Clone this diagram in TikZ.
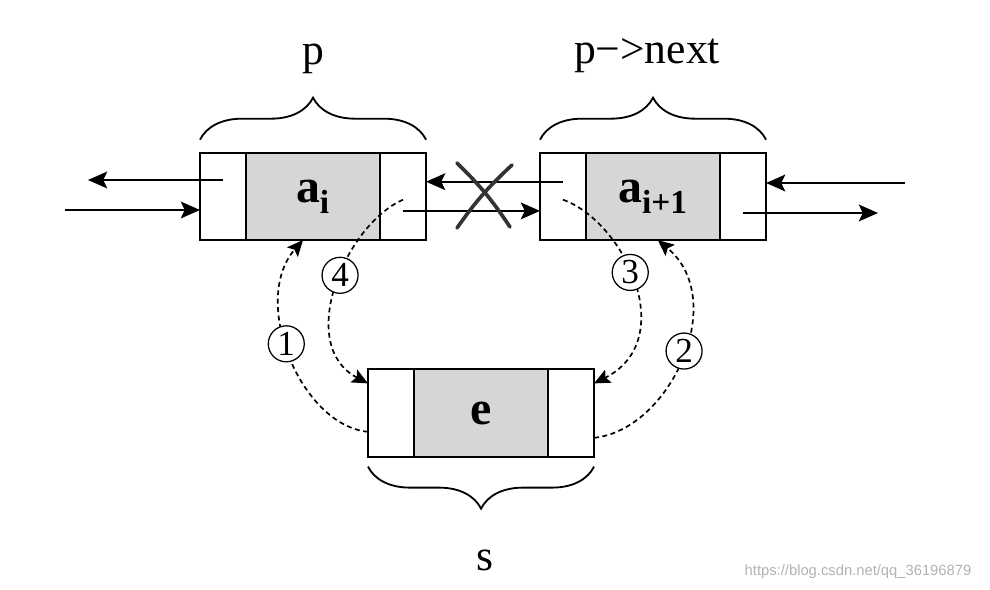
\documentclass[tikz,border=0pt]{standalone}
\usepackage{fontspec}
\setmainfont{Liberation Serif}
\newfontfamily\wmfont{Liberation Sans}
\usetikzlibrary{positioning,decorations.pathreplacing,arrows.meta}

\begin{document}
\begin{tikzpicture}[
        x=0.025cm, y=-0.025cm,
        node distance=0pt,
        every node/.style={font=\fontsize{31}{34}\selectfont},
        field/.style={draw, line width=1.3pt, minimum width=1.15cm, minimum height=2.18cm, inner sep=0pt, outer sep=0pt},
        datafield/.style={field, fill=black!16, minimum width=3.35cm, font=\fontsize{34}{36}\selectfont\bfseries},
        link/.style={line width=1.4pt, -{Stealth[length=0.48cm, width=0.42cm, inset=0.1cm]}},
        relink/.style={dashed, dash pattern=on 3.5pt off 2.5pt, line width=1.2pt, -{Stealth[length=0.4cm, width=0.36cm, inset=0.08cm]}},
        numlabel/.style={solid, circle, draw, line width=0.9pt, fill=white, inner sep=0pt, minimum size=0.9cm, font=\fontsize{25}{27}\selectfont},
        curly/.style={decorate, decoration={brace, amplitude=1.05cm, aspect=0.5}, line width=1.3pt},
        crossmark/.style={line width=2.6pt, black!80, line cap=round}
    ]
        \useasboundingbox (0,0) rectangle (990,590);

        % Vẽ các nút
        \node[field] (pl) at (223,196.5) {};
        \node[datafield, right=of pl] (pd) {a\textsubscript{i}};
        \node[field, right=of pd] (pr) {};

        \node[field] (ql) at (563,196.5) {};
        \node[datafield, right=of ql] (qd) {a\textsubscript{i+1}};
        \node[field, right=of qd] (qr) {};

        \node[field] (sl) at (391,413) {};
        \node[datafield, right=of sl] (sd) {e};
        \node[field, right=of sd] (sr) {};

        % Vẽ dấu ngoặc và nhãn
        \draw[curly] ([yshift=0.33cm]pl.north west) -- ([yshift=0.33cm]pr.north east);
        \draw[curly] ([yshift=0.33cm]ql.north west) -- ([yshift=0.33cm]qr.north east);
        \draw[curly] ([yshift=-0.25cm]sr.south east) -- ([yshift=-0.25cm]sl.south west);
        \node (plabel) at (313,59) {p};
        \node (qlabel) at (647,56) {p−>next};
        \node (slabel) at (485,560) {s};

        % Các mũi tên liên kết
        \coordinate (lout) at (88,180);
        \coordinate (lin) at (65,210);
        \coordinate (rin) at (905,183);
        \coordinate (rout) at (878,213);
        \draw[link] (pl.center |- lout) -- (lout);
        \draw[link] (lin) -- (lin -| pl.west);
        \draw[link] ([yshift=0.37cm]ql.center) -- ([yshift=0.37cm]pr.east);
        \draw[link] ([yshift=-0.36cm]pr.center) -- ([yshift=-0.36cm]ql.west);
        \draw[link] (rin) -- (rin -| qr.east);
        \draw[link] (qr.center |- rout) -- (rout);

        % Dấu gạch chéo
        \draw[crossmark] (457,163) to[bend left=6] (510,227);
        \draw[crossmark] (512,165) to[bend right=6] (457,228);

        % Các liên kết mới
        \draw[relink] ([yshift=-0.47cm]sl.west) .. controls (300,425) and (250,300) .. ([xshift=-0.25cm]pd.south)
            node[numlabel, pos=0.55] {1};
        \draw[relink] ([yshift=-0.62cm]sr.east) .. controls (670,430) and (730,300) .. ([xshift=0.12cm]qd.south)
            node[numlabel, pos=0.53] {2};
        \draw[relink] ([yshift=-0.08cm]ql.center) .. controls (625,222) and (680,340) .. ([yshift=-0.35cm]sr.north east)
            node[numlabel, pos=0.45] {3};
        \draw[relink] ([yshift=-0.08cm]pr.center) .. controls (345,225) and (295,345) .. ([yshift=-0.35cm]sl.north west)
            node[numlabel, pos=0.45] {4};

        \node[font=\wmfont\fontsize{10.5}{12}\selectfont, text=black!30] (mark) at (858,572) {https://blog.csdn.net/qq\_36196879};
    \end{tikzpicture}
\end{document}
